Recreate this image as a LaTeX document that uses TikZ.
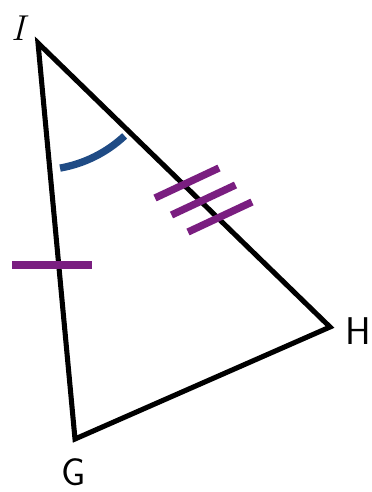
\documentclass[tikz,border=0pt]{standalone}
\usepackage{tikz}
\usetikzlibrary{calc}
\definecolor{markpurple}{HTML}{7A1E80}
\definecolor{arcblue}{HTML}{1F4B85}

\begin{document}
\begin{tikzpicture}[x=0.75pt, y=-0.75pt,
    side/.style={black, line width=3.8pt, line join=miter},
    tick/.style={markpurple, line width=5.5pt},
    vlabel/.style={inner sep=0pt, font=\fontsize{29}{29}\selectfont\sffamily}]
    \useasboundingbox (0,0) rectangle (371,492);
    % vertices
    \coordinate (I) at (38,43);
    \coordinate (H) at (330,327);
    \coordinate (G) at (75,439);
    \draw[side] (I) -- (H) -- (G) -- cycle;
    % angle at I
    \draw[arcblue, line width=5.5pt] ($(I)+(80:127)$) arc[start angle=80, end angle=47, radius=127];
    % congruence marks
    \draw[tick] (12,265) -- (92,265);
    \foreach \k in {0,1,2}{%
      \draw[tick] ($(187,183)+(\k*16.5,\k*17)+(-32,15)$) -- ($(187,183)+(\k*16.5,\k*17)+(32,-15)$);}
    % labels
    \node[inner sep=0pt, font=\fontsize{27}{27}\selectfont\itshape] (Ilab) at (18,28) {I};
    \node[vlabel] (Hlab) at (358,331) {H};
    \node[vlabel] (Glab) at (74,472) {G};
  \end{tikzpicture}
\end{document}
